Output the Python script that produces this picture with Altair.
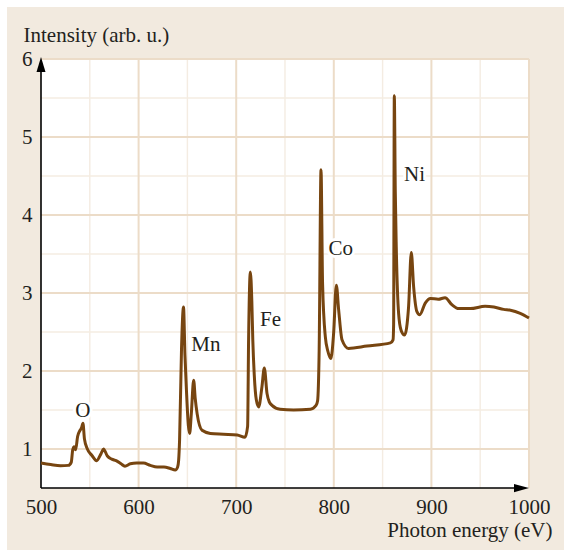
import altair as alt
import pandas as pd

# Soft X-ray absorption spectrum (L edges of transition metals, O K edge)
energy = [
    500, 510, 520, 528, 531, 532.5, 534, 535.5, 537.5, 540, 541.5, 543, 544.5,
    547.5, 552, 557, 561.5, 564, 568, 572.5, 577, 582, 586, 591.5, 598, 605,
    612, 619, 626, 632.5, 637.5, 640, 641, 642, 644, 646, 647.5, 649, 651,
    652.3, 654, 656.4, 658, 660, 665, 673.5, 687, 701, 709, 711.7, 712.7,
    714.5, 716, 717, 718.5, 720.6, 723, 726.4, 728.8, 731.6, 734, 736.7, 745,
    758.8, 776, 781.8, 783.4, 785, 786.9, 788.5, 791.3, 794, 797, 799.8,
    802.6, 805, 808.4, 815, 834, 858, 860.7, 861.3, 862, 863, 864, 866.4, 869,
    872.5, 876.6, 879.4, 881.8, 885.2, 888, 893.7, 899, 907, 914, 921, 928,
    940, 955, 964, 974, 981, 991, 1000,
]
intensity = [
    0.82, 0.80, 0.785, 0.79, 0.83, 0.99, 1.03, 0.99, 1.16, 1.24, 1.27, 1.33,
    1.13, 1.00, 0.92, 0.85, 0.94, 1.00, 0.91, 0.87, 0.85, 0.81, 0.78, 0.81,
    0.82, 0.82, 0.79, 0.77, 0.77, 0.75, 0.73, 0.77, 0.85, 1.12, 2.30, 2.82,
    2.20, 1.76, 1.30, 1.20, 1.45, 1.88, 1.65, 1.45, 1.24, 1.20, 1.19, 1.18,
    1.15, 1.29, 2.40, 3.27, 2.90, 2.40, 1.95, 1.63, 1.54, 1.80, 2.04, 1.71,
    1.60, 1.56, 1.51, 1.50, 1.51, 1.56, 1.62, 2.27, 4.58, 3.12, 2.44, 2.25,
    2.16, 2.48, 3.10, 2.78, 2.40, 2.29, 2.32, 2.36, 2.40, 2.60, 5.53, 4.30,
    3.59, 2.74, 2.52, 2.46, 2.82, 3.52, 3.08, 2.76, 2.72, 2.87, 2.93, 2.92,
    2.94, 2.85, 2.80, 2.80, 2.83, 2.82, 2.79, 2.78, 2.74, 2.68,
]

element_names = ["O", "Mn", "Fe", "Co", "Ni"]
element_x = [542.8, 669.0, 735.2, 807.2, 882.7]
element_y = [1.49, 2.33, 2.66, 3.56, 4.51]

x_ticks = [500, 600, 700, 800, 900, 1000]
y_ticks = [1, 2, 3, 4, 5, 6]
x_minor = [550, 650, 750, 850, 950]
y_minor = [1.5, 2.5, 3.5, 4.5, 5.5]
x_range = [500, 1000]
y_range = [0.5, 6]

W, H = 488, 429
FONT = "Liberation Serif"
FS = 21
INK = "#231F20"
BROWN = "#774510"
MAJOR = "#ECDCC8"
MINOR = "#F4ECE2"
PANEL = "#F2EADF"

spectrum = pd.DataFrame({"energy": energy, "intensity": intensity})
labels = pd.DataFrame({"name": element_names, "energy": element_x, "intensity": element_y})
one = pd.DataFrame({"k": [0]})

xs = alt.Scale(domain=x_range, nice=False, zero=False)
ys = alt.Scale(domain=y_range, nice=False, zero=False)

# one shared axis definition per channel, repeated in every layer so they merge;
# zindex 1 keeps the labels above the panel backdrop
x_axis = alt.Axis(
    values=x_ticks, format="d", grid=False, ticks=False, tickSize=0, domain=False, zindex=1,
    labelFont=FONT, labelFontSize=FS, labelColor=INK, labelPadding=8,
    labelFlush=False, labelOverlap=False, labelBound=False,
    title="Photon energy (eV)", titleFont=FONT, titleFontSize=FS,
    titleFontWeight="normal", titleColor=INK, titleAlign="right",
    titleBaseline="alphabetic", titleX=511, titleY=48,
)
y_axis = alt.Axis(
    values=y_ticks, format="d", grid=False, ticks=False, tickSize=0, domain=False, zindex=1,
    labelFont=FONT, labelFontSize=FS, labelColor=INK, labelPadding=9,
    labelFlush=False, labelOverlap=False, labelBound=False,
    title="Intensity (arb. u.)", titleFont=FONT, titleFontSize=FS,
    titleFontWeight="normal", titleColor=INK, titleAngle=0,
    titleAlign="left", titleBaseline="alphabetic", titleX=-18, titleY=-18,
)


def X(field):
    return alt.X(field, type="quantitative", scale=xs, axis=x_axis)


def Y(field):
    return alt.Y(field, type="quantitative", scale=ys, axis=y_axis)


panel = alt.Chart(one).mark_rect(color=PANEL).encode(
    x=alt.value(-34), x2=alt.value(523), y=alt.value(-52), y2=alt.value(491)
)
plot_bg = alt.Chart(one).mark_rect(color="white").encode(
    x=alt.value(0), x2=alt.value(W), y=alt.value(0), y2=alt.value(H)
)

vminor = alt.Chart(pd.DataFrame({"energy": x_minor})).mark_rule(color=MINOR, strokeWidth=1.4).encode(x=X("energy"))
hminor = alt.Chart(pd.DataFrame({"intensity": y_minor})).mark_rule(color=MINOR, strokeWidth=1.4).encode(y=Y("intensity"))
vmajor = alt.Chart(pd.DataFrame({"energy": x_ticks[1:]})).mark_rule(color=MAJOR, strokeWidth=2).encode(x=X("energy"))
hmajor = alt.Chart(pd.DataFrame({"intensity": y_ticks})).mark_rule(color=MAJOR, strokeWidth=2).encode(y=Y("intensity"))

# axis lines ending in arrowheads
x_axis_line = alt.Chart(
    pd.DataFrame({"energy": [x_range[0]], "e2": [x_range[1] - 8], "intensity": [y_range[0]]})
).mark_rule(color="black", strokeWidth=1.6).encode(x=X("energy"), x2="e2:Q", y=Y("intensity"))
y_axis_line = alt.Chart(
    pd.DataFrame({"energy": [x_range[0]], "intensity": [y_range[0]], "i2": [y_range[1] - 0.1]})
).mark_rule(color="black", strokeWidth=1.6).encode(x=X("energy"), y=Y("intensity"), y2="i2:Q")
up_arrow = alt.Chart(pd.DataFrame({"energy": [x_range[0]], "intensity": [y_range[1]]})).mark_point(
    shape="M0,-0.27 L0.6,1.73 L-0.6,1.73 Z", size=225, filled=True, color="black", opacity=1, strokeWidth=0
).encode(x=X("energy"), y=Y("intensity"))
right_arrow = alt.Chart(pd.DataFrame({"energy": [x_range[1]], "intensity": [y_range[0]]})).mark_point(
    shape="M0,0 L-2,-0.55 L-2,0.55 Z", size=225, filled=True, color="black", opacity=1, strokeWidth=0
).encode(x=X("energy"), y=Y("intensity"))

curve = alt.Chart(spectrum).mark_line(
    color=BROWN, strokeWidth=3, interpolate="monotone"
).encode(x=X("energy"), y=Y("intensity"))

halo = alt.Chart(labels).mark_text(
    font=FONT, fontSize=FS, color="white", stroke="white", strokeWidth=6, strokeJoin="miter"
).encode(x=X("energy"), y=Y("intensity"), text="name:N")
names = alt.Chart(labels).mark_text(font=FONT, fontSize=FS, color=INK).encode(
    x=X("energy"), y=Y("intensity"), text="name:N"
)

chart = alt.layer(
    panel, plot_bg, vminor, hminor, vmajor, hmajor, x_axis_line, y_axis_line,
    curve, halo, names, up_arrow, right_arrow,
).properties(
    width=W, height=H,
    autosize=alt.AutoSizeParams(type="none"),
    padding={"left": 41, "top": 59, "right": 35, "bottom": 62},
).configure(background="white").configure_view(stroke=None)

chart.save("out.html", embed_options={"renderer": "svg", "actions": False})
